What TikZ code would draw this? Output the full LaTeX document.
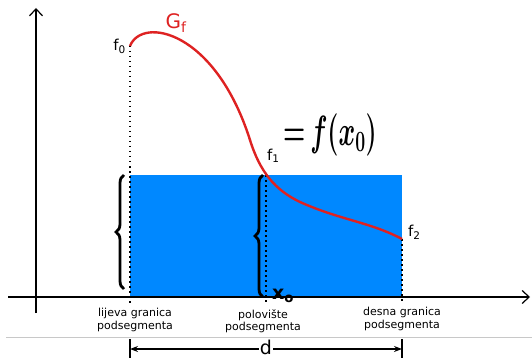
\documentclass[tikz,border=0pt]{standalone}
\usepackage{fontspec}
\setmainfont{DejaVu Sans}
\usetikzlibrary{arrows.meta, positioning, decorations.pathreplacing}
\definecolor{graphred}{RGB}{222,34,34}
\definecolor{stripblue}{RGB}{0,136,255}
\definecolor{rulegray}{RGB}{200,200,200}

\begin{document}
\begin{tikzpicture}[
    x=1pt, y=-1pt,
    every node/.style={font=\fontsize{11}{12.5}\selectfont},
    axis/.style={line width=1.3pt, -{Straight Barb[length=7pt,width=13pt,line width=1.2pt]}},
    guide/.style={line width=1.5pt, dash pattern=on 1.5pt off 3.5pt},
    curlybrace/.style={decorate, decoration={brace, amplitude=8pt}, line width=2.8pt},
    graph/.style={graphred, line width=2.4pt},
    flabel/.style={font=\fontsize{15}{15}\selectfont, inner sep=0pt},
    caption/.style={align=center, inner sep=0pt},
    dimline/.style={line width=1.6pt, {Stealth[length=8pt,width=6pt]}-{Stealth[length=8pt,width=6pt]}},
    dimbar/.style={line width=2.8pt}
]
\useasboundingbox (0,0) rectangle (532,358);

\coordinate (O) at (36,297);
\coordinate (ytop) at (36,8);
\coordinate (ybot) at (36,313);
\coordinate (xlft) at (8,297);
\coordinate (xrgt) at (530,297);
\coordinate (a) at (130,297);
\coordinate (m) at (266,297);
\coordinate (b) at (402,297);
\coordinate (f0) at (130,46);
\coordinate (f1) at (266,175);
\coordinate (f2) at (402,239);
\coordinate (dl) at (130,349);
\coordinate (dr) at (402,349);

\fill[stripblue] (a) rectangle (b |- f1);

\draw[axis] (xlft) -- (xrgt);
\draw[axis] (ybot) -- (ytop);

\draw[guide] (f0) -- ([yshift=-6pt]a);
\draw[guide] (f1) -- ([yshift=-6pt]m);
\draw[guide] (f2) -- ([yshift=-6pt]b);

\draw[curlybrace] (124,289) -- (124,175);
\draw[curlybrace] (263,297) -- (263,175);

\draw[graph] (f0) .. controls (142,16) and (215,30) .. (250,140)
    .. controls (260,172) and (275,190) .. (300,202)
    .. controls (340,220) and (370,222) .. (f2);

\node[flabel, left=4pt of f0] (f0lab) {f\textsubscript{0}};
\node[flabel, graphred, font=\fontsize{20}{20}\selectfont] (gf) at (176,23) {G\textsubscript{f}};
\node[flabel, anchor=south west] (f1lab) at ([xshift=1pt, yshift=12pt]f1) {f\textsubscript{1}};
\node[anchor=west, inner sep=0pt, font=\fontsize{24}{24}\selectfont\boldmath, xscale=1.02, yscale=1.7] (f1eq) at (283,135) {${=}\,f(x_0)$};
\node[flabel, anchor=south west] (f2lab) at ([xshift=6pt, yshift=-1pt]f2) {f\textsubscript{2}};
\node[inner sep=0pt, font=\fontsize{19}{19}\selectfont\bfseries] (x0) at (283,296) {x\textsubscript{o}};

\node[caption, below=11pt of a, xshift=5pt] (lcap) {lijeva granica\\podsegmenta};
\node[caption, below=12pt of m, xshift=-3pt] (mcap) {polovište\\podsegmenta};
\node[caption, below=10pt of b] (rcap) {desna granica\\podsegmenta};

\draw[rulegray, line width=1pt] (6,337) -- (532,337);

\draw[dimbar] ([yshift=10pt]dl) -- ([yshift=-10pt]dl);
\draw[dimbar] ([yshift=10pt]dr) -- ([yshift=-10pt]dr);
\draw[dimline] (dl) -- node[fill=white, inner sep=1pt, yshift=2pt, font=\fontsize{19}{19}\selectfont] (dlab) {d} (dr);

\end{tikzpicture}
\end{document}
